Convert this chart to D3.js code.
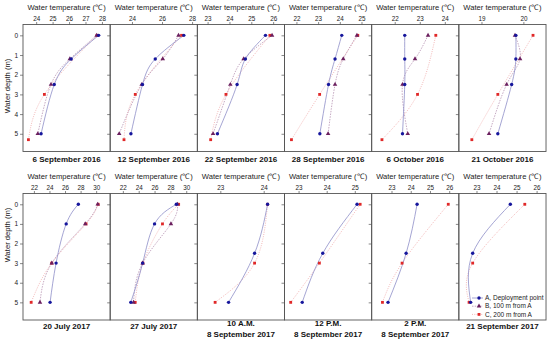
<!DOCTYPE html>
<html>
<head>
<meta charset="utf-8">
<script src="https://cdn.jsdelivr.net/npm/d3@7"></script>
<style>
  body { margin: 0; background: #fff; }
  svg { display: block; font-family: "Liberation Sans", Arial, sans-serif; }
</style>
</head>
<body>
<div id="chart"></div>
<script>
// ---------------- data ----------------
const dateLabels = [
  ["6 September 2016"], ["12 September 2016"], ["22 September 2016"],
  ["28 September 2016"], ["6 October 2016"], ["21 October 2016"],
  ["20 July 2017"], ["27 July 2017"], ["10 A.M.", "8 September 2017"],
  ["12 P.M.", "8 September 2017"], ["2 P.M.", "8 September 2017"], ["21 September 2017"]
];
const tempTicks = [
  [24, 25, 26, 27, 28], [24, 26, 28], [23, 24, 25, 26], [22, 23, 24, 25], [22, 23, 24], [19, 20],
  [22, 24, 26, 28, 30], [22, 24, 26, 28, 30], [23, 24], [23, 24, 25], [23, 24, 25, 26], [23, 24, 25, 26]
];
const tempDomains = [
  [23.2, 28.5], [22.55, 28.35], [22.53, 26.52], [21.45, 25.47], [21.08, 24.56], [18.46, 20.54],
  [20.6, 31.8], [20.4, 31.4], [22.47, 24.48], [22.5, 25.6], [21.97, 26.5], [22.12, 26.47]
];
const depthTicks = [0, 1, 2, 3, 4, 5];
const depthDomain = [-0.55, 5.9];

// [depth (m), temperature (°C)]
const seriesA = [
  [[0, 27.8], [1.2, 26.13], [2.5, 25.1], [5, 24.3]],
  [[0, 27.45], [1.2, 25.55], [2.5, 24.7], [5, 23.93]],
  [[0, 25.65], [1.2, 24.73], [2.5, 24.35], [5, 23.45]],
  [[0, 24.09], [1.2, 23.78], [2.5, 23.48], [5, 23.08]],
  [[0, 22.4], [1.2, 22.4], [2.5, 22.4], [5, 22.31]],
  [[0, 19.82], [1.2, 19.82], [2.5, 19.72], [5, 19.39]],
  [[0, 27.71], [1, 26.15], [3, 24.85], [5, 24.08]],
  [[0, 28.75], [1, 26.0], [3, 24.5], [5, 23.0]],
  [[0, 24.09], [2.5, 23.79], [5, 23.19]],
  [[0, 25.08], [2.5, 23.86], [5, 23.13]],
  [[0, 24.33], [2.5, 23.76], [5, 22.82]],
  [[0, 24.69], [2.5, 22.81], [5, 22.71]]
];
const seriesB = [
  [[0, 27.68], [1.2, 26.05], [2.5, 24.9], [5, 24.1]],
  [[0, 27.1], [1.2, 26.05], [2.5, 24.65], [5, 23.15]],
  [[0, 25.95], [1.2, 24.65], [2.5, 24.04], [5, 23.25]],
  [[0, 24.79], [1.2, 24.16], [2.5, 23.78], [5, 23.46]],
  [[0, 23.33], [1.2, 22.81], [2.5, 22.31], [5, 22.52]],
  [[0, 19.8], [1.2, 19.92], [2.5, 19.6], [5, 19.18]],
  [[0, 30.2], [1, 28.6], [3, 24.3], [5, 22.78]],
  [[0, 28.9], [1, 28.07], [3, 24.5], [5, 23.35]],
  [], [], [], []
];
const seriesC = [
  [[0, 27.7], [3, 24.5], [5.3, 23.53]],
  [[0, 27.3], [3, 24.22], [5.3, 23.47]],
  [[0, 25.85], [3, 23.84], [5.3, 23.14]],
  [[0, 24.83], [3, 23.07], [5.3, 21.77]],
  [[0, 23.64], [3, 22.91], [5.3, 21.49]],
  [[0, 20.23], [3, 19.39], [5.3, 18.77]],
  [[0, 30.26], [1, 28.7], [3, 24.29], [5, 21.65]],
  [[0, 29.04], [1, 27.0], [3, 24.53], [5, 23.56]],
  [[0, 24.09], [3, 23.79], [5, 22.88]],
  [[0, 25.19], [3, 23.74], [5, 22.72]],
  [[0, 25.95], [3, 23.55], [5, 22.53]],
  [[0, 25.41], [3, 22.81], [5, 22.63]]
];
const legendLabels = ["A, Deployment point", "B, 100 m from A", "C, 200 m from A"];

// ---------------- layout ----------------
const width = 550, height = 342;
const left = 23, panelW = 87.17;
const rows = [
  { top: 24.5, bottom: 151.5, titleY: 10, dateY: 162 },
  { top: 193.5, bottom: 320, titleY: 179, dateY: 329 }
];
const styles = [
  { color: "#16169c", line: "#8e8ec8", dash: null, sym: d3.symbolCircle, size: 9 },
  { color: "#6b1f5e", line: "#b894b4", dash: "1.5,1.2", sym: d3.symbolTriangle, size: 9 },
  { color: "#e02828", line: "#f0a8a8", dash: "1,1.3", sym: d3.symbolSquare, size: 8 }
];
const textColor = "#222";
const frameColor = "#555";

const svg = d3.select("#chart").append("svg")
  .attr("width", width).attr("height", height);

for (let i = 0; i < 12; i++) {
  const r = rows[Math.floor(i / 6)];
  const col = i % 6;
  const x0 = left + col * panelW;
  const x = d3.scaleLinear().domain(tempDomains[i]).range([x0, x0 + panelW]);
  const y = d3.scaleLinear().domain(depthDomain).range([r.top, r.bottom]);
  const g = svg.append("g");

  // frame
  g.append("rect")
    .attr("x", x0).attr("y", r.top)
    .attr("width", panelW).attr("height", r.bottom - r.top)
    .attr("fill", "none").attr("stroke", frameColor).attr("stroke-width", 0.9);

  // top axis
  const ax = g.append("g")
    .attr("transform", "translate(0," + r.top + ")")
    .call(d3.axisTop(x).tickValues(tempTicks[i]).tickFormat(d3.format("d"))
      .tickSize(2.5).tickSizeOuter(0).tickPadding(1.5));
  ax.select(".domain").remove();
  ax.selectAll("line").attr("stroke", frameColor).attr("stroke-width", 0.7);
  ax.selectAll("text").attr("fill", textColor).style("font-size", "6.3px");

  g.append("text")
    .attr("x", x0 + panelW / 2).attr("y", r.titleY)
    .attr("text-anchor", "middle").attr("fill", textColor)
    .style("font-size", "7.6px")
    .text("Water temperature (℃)");

  // left axis
  const ay = g.append("g")
    .attr("transform", "translate(" + x0 + ",0)")
    .call(d3.axisLeft(y).tickValues(depthTicks).tickSize(3).tickSizeOuter(0).tickPadding(2)
      .tickFormat(col === 0 ? d3.format("d") : () => ""));
  ay.select(".domain").remove();
  ay.selectAll("line").attr("stroke", frameColor).attr("stroke-width", 0.7);
  ay.selectAll("text").attr("fill", textColor).style("font-size", "6.5px");

  if (col === 0) {
    g.append("text")
      .attr("transform", "translate(10," + (i === 0 ? 86 : 235) + ") rotate(-90)")
      .attr("text-anchor", "middle").attr("fill", textColor)
      .style("font-size", "7.6px")
      .text("Water depth (m)");
  }

  // date label
  const lbl = dateLabels[i];
  lbl.forEach((t, k) => {
    g.append("text")
      .attr("x", x0 + panelW / 2)
      .attr("y", lbl.length === 2 ? r.dateY - 3 + k * 11 : r.dateY)
      .attr("text-anchor", "middle").attr("fill", "#111")
      .style("font-size", "8px").style("font-weight", "bold")
      .text(t);
  });

  // lines
  const line = d3.line()
    .x(d => x(d[1])).y(d => y(d[0]))
    .curve(d3.curveNatural);
  const all = [seriesA[i], seriesB[i], seriesC[i]];
  [2, 1, 0].forEach(s => {
    if (all[s].length < 2) return;
    g.append("path").datum(all[s])
      .attr("fill", "none")
      .attr("stroke", styles[s].line)
      .attr("stroke-width", 0.8)
      .attr("stroke-dasharray", styles[s].dash)
      .attr("d", line);
  });
  // markers
  [2, 1, 0].forEach(s => {
    g.selectAll(null).data(all[s]).join("path")
      .attr("transform", d => "translate(" + x(d[1]) + "," + y(d[0]) + ")")
      .attr("d", d3.symbol().type(styles[s].sym).size(styles[s].size))
      .attr("fill", styles[s].color);
  });
}

// legend
const lg = svg.append("g");
legendLabels.forEach((t, k) => {
  const ly = 298 + k * 8.2;
  lg.append("line")
    .attr("x1", 472).attr("x2", 483).attr("y1", ly).attr("y2", ly)
    .attr("stroke", styles[k].line).attr("stroke-width", 0.8)
    .attr("stroke-dasharray", styles[k].dash);
  lg.append("path")
    .attr("transform", "translate(479," + ly + ")")
    .attr("d", d3.symbol().type(styles[k].sym).size(styles[k].size))
    .attr("fill", styles[k].color);
  lg.append("text")
    .attr("x", 485).attr("y", ly + 2.2)
    .attr("fill", textColor).style("font-size", "6.5px")
    .text(t);
});
</script>
</body>
</html>
